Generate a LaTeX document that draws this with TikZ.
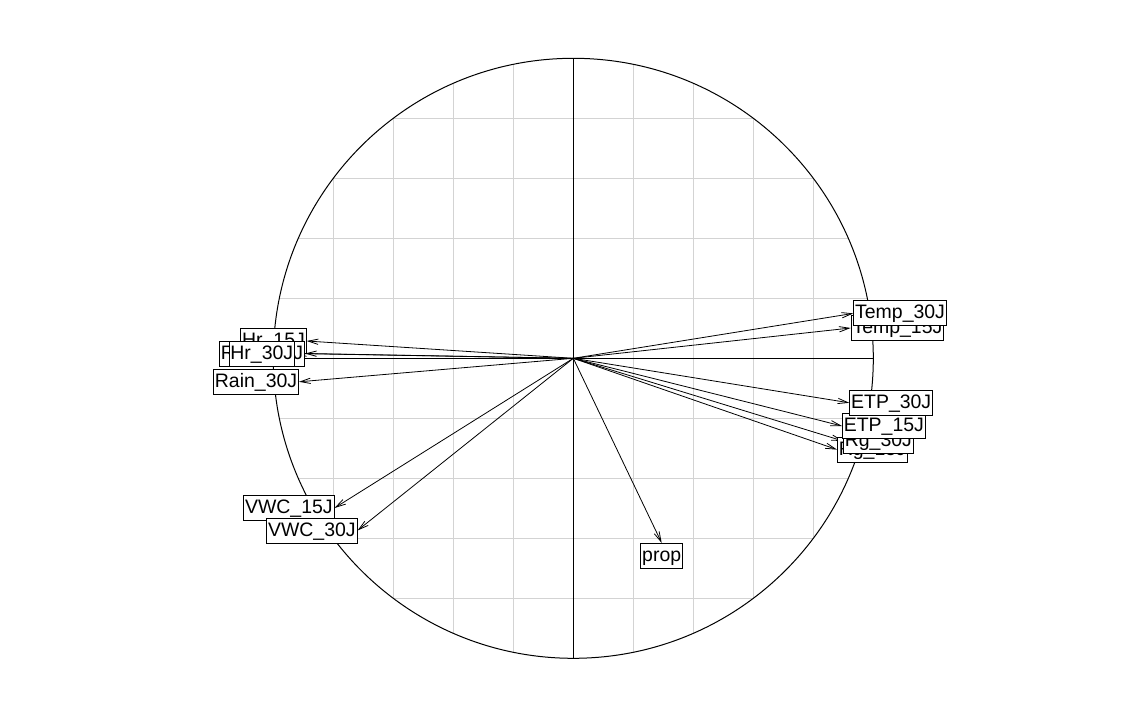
\documentclass[tikz,border=0pt]{standalone}
\usepackage{fontspec}
\setmainfont{Liberation Sans}
\usetikzlibrary{arrows.meta}
\definecolor{gridgray}{HTML}{D3D3D3}
\begin{document}
\begin{tikzpicture}[x=0.75pt,y=-0.75pt,
  gridline/.style={draw=gridgray, line width=0.75pt},
  axisline/.style={draw=black, line width=0.75pt},
  vec/.style={draw=black, line width=0.6pt, -{Straight Barb[length=7.5pt,width=4pt]}},
  lab/.style={draw=black, fill=white, line width=0.75pt, inner xsep=1pt, inner ysep=0.5pt,
    text height=13pt, text depth=4.75pt, font=\fontsize{14.6}{16}\selectfont}]
\useasboundingbox (0,0) rectangle (1148,717);
\coordinate (O) at (573.3,358.3);
% grid clipped to the circle
\begin{scope}
  \clip (O) circle[radius=225pt];
  \foreach \k in {-4,-3,-2,-1,1,2,3,4} {
    \draw[gridline] (573.3+\k*60,50) -- (573.3+\k*60,670);
    \draw[gridline] (260,358.3+\k*60) -- (890,358.3+\k*60);
  }
\end{scope}
% circle and axes
\draw[axisline] (O) circle[radius=225pt];
\coordinate (AT) at (573.3,58.3);
\coordinate (AB) at (573.3,658.3);
\coordinate (AL) at (273.3,358.3);
\coordinate (AR) at (873.3,358.3);
\draw[axisline] (AT) -- (AB);
\draw[axisline] (AL) -- (AR);
% arrow tips
\coordinate (tTemp15) at (850.7,328);
\coordinate (tTemp30) at (853.3,313.4);
\coordinate (tETP30) at (849.3,402.8);
\coordinate (tETP15) at (842,426);
\coordinate (tRg30) at (843,441);
\coordinate (tRg15) at (837,449.6);
\coordinate (tHr15) at (306.7,341);
\coordinate (tRain15) at (305,353.5);
\coordinate (tHr30) at (295,353.5);
\coordinate (tRain30) at (299,381.8);
\coordinate (tVWC15) at (334.5,508);
\coordinate (tVWC30) at (357.5,530.5);
\coordinate (tprop) at (661.7,543);
% arrows
\foreach \t in {tTemp15,tTemp30,tETP30,tETP15,tRg30,tRg15,tHr15,tRain15,tHr30,tRain30,tVWC15,tVWC30,tprop}
  \draw[vec] (O) -- (\t);
% labels
\node[lab, anchor=west] (Rg15) at (tRg15) {Rg\_15J};
\node[lab, anchor=west] (Rg30) at (tRg30) {Rg\_30J};
\node[lab, anchor=west] (ETP15) at (tETP15) {ETP\_15J};
\node[lab, anchor=west] (ETP30) at (tETP30) {ETP\_30J};
\node[lab, anchor=west] (Temp15) at (tTemp15) {Temp\_15J};
\node[lab, anchor=west] (Temp30) at (tTemp30) {Temp\_30J};
\node[lab, anchor=east] (Hr15) at (tHr15) {Hr\_15J};
\node[lab, anchor=east] (Rain15) at (tRain15) {Rain\_15J};
\node[lab, anchor=east] (Hr30) at (tHr30) {Hr\_30J};
\node[lab, anchor=east] (Rain30) at (tRain30) {Rain\_30J};
\node[lab, anchor=east] (VWC15) at (tVWC15) {VWC\_15J};
\node[lab, anchor=east] (VWC30) at (tVWC30) {VWC\_30J};
\node[lab, anchor=north] (prop) at (tprop) {prop};
\end{tikzpicture}
\end{document}
